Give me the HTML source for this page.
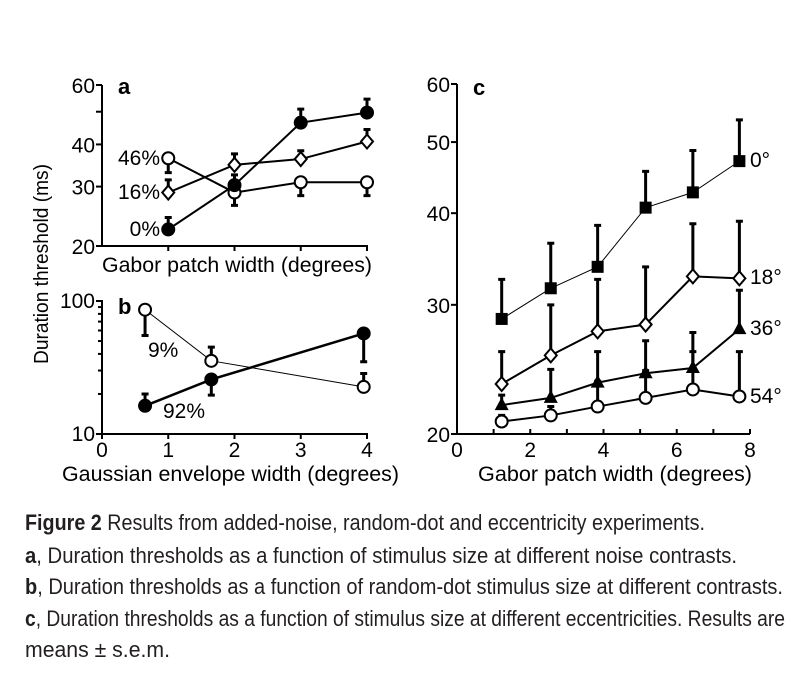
<!DOCTYPE html>
<html><head><meta charset="utf-8"><style>
html,body{margin:0;padding:0;background:#fff;}
svg{display:block;font-family:"Liberation Sans",sans-serif;}
</style></head><body>
<svg id="fig" width="803" height="689" viewBox="0 0 803 689" xmlns="http://www.w3.org/2000/svg">
<g id="pa"></g>
<g id="pb"></g>
<g id="pc"></g>
<text transform="translate(48,264) rotate(-90)" text-anchor="middle" font-size="20" textLength="200" lengthAdjust="spacingAndGlyphs">Duration threshold (ms)</text>
<g font-size="22" fill="#231f20">
<text x="25" y="530" textLength="680" lengthAdjust="spacingAndGlyphs"><tspan font-weight="bold">Figure 2</tspan> Results from added-noise, random-dot and eccentricity experiments.</text>
<text x="25" y="563" textLength="712" lengthAdjust="spacingAndGlyphs"><tspan font-weight="bold">a</tspan>, Duration thresholds as a function of stimulus size at different noise contrasts.</text>
<text x="25" y="594" textLength="758" lengthAdjust="spacingAndGlyphs"><tspan font-weight="bold">b</tspan>, Duration thresholds as a function of random-dot stimulus size at different contrasts.</text>
<text x="25" y="626" textLength="760" lengthAdjust="spacingAndGlyphs"><tspan font-weight="bold">c</tspan>, Duration thresholds as a function of stimulus size at different eccentricities. Results are</text>
<text x="25" y="657" textLength="145" lengthAdjust="spacingAndGlyphs">means ± s.e.m.</text>
</g>
</svg>
<script>
// ---- data ----
const aX = [1, 2, 3, 4];
const a0 = [22.4, 30.3, 46.4, 49.7];
const a0Err = [24.3, 32.5, 50.9, 54.5];
const a16 = [28.8, 34.8, 36.2, 40.8];
const a16Err = [31.4, 37.5, 38.3, 44.3];
const a46 = [36.4, 28.8, 30.9, 30.9];
const a46Err = [33.0, 26.4, 28.2, 28.2];
const aYTicks = [20, 30, 40, 50, 60];
const aYLabels = ["20", "30", "40", "", "60"];

const bX = [0.65, 1.65, 3.95];
const b9 = [86, 35.5, 22.6];
const b9Err = [55, 45, 28.5];
const b92 = [16.3, 25.7, 57];
const b92Err = [20, 19.6, 34.9];
const bXTicks = [0, 1, 2, 3, 4];
const bYTicks = [10, 20, 30, 40, 50, 60, 70, 80, 90, 100];

const cX = [1.22, 2.56, 3.84, 5.15, 6.44, 7.71];
const c0 = [28.7, 31.6, 33.8, 40.7, 42.7, 47.1];
const c0Err = [32.5, 36.4, 38.5, 45.6, 48.7, 53.6];
const c18 = [23.4, 25.6, 27.6, 28.2, 32.8, 32.6];
const c18Err = [25.9, 30.0, 32.5, 33.8, 38.7, 39.0];
const c36 = [21.9, 22.4, 23.5, 24.2, 24.6, 27.8];
const c36Err = [22.6, 24.5, 25.9, 26.8, 27.5, 31.4];
const c54 = [20.8, 21.2, 21.8, 22.4, 23.0, 22.5];
const c54Err = [21.2, 21.8, 23.6, 24.4, 25.9, 25.9];
const cYTicks = [20, 30, 40, 50, 60];
const cXTicks = [0, 1, 2, 3, 4, 5, 6, 7, 8];
const cXLabels = ["0", "", "2", "", "4", "", "6", "", "8"];

const NS = "http://www.w3.org/2000/svg";
function mk(parent, tag, attrs, txt) {
  const e = document.createElementNS(NS, tag);
  for (const k in attrs) e.setAttribute(k, attrs[k]);
  if (txt !== undefined) e.textContent = txt;
  parent.appendChild(e);
  return e;
}
function logScale(d0, d1, r0, r1) { return v => r0 + (Math.log(v) - Math.log(d0)) / (Math.log(d1) - Math.log(d0)) * (r1 - r0); }
function linScale(d0, d1, r0, r1) { return v => r0 + (v - d0) / (d1 - d0) * (r1 - r0); }

function marker(g, type, x, y, name) {
  let e;
  if (type === "fc" || type === "oc") e = mk(g, "circle", {cx: x, cy: y, r: 6, fill: type === "fc" ? "#000" : "#fff", stroke: "#000", "stroke-width": 2});
  else if (type === "sq") e = mk(g, "rect", {x: x - 6, y: y - 6, width: 12, height: 12, fill: "#000"});
  else if (type === "di") e = mk(g, "polygon", {points: `${x},${y-7} ${x+6},${y} ${x},${y+7} ${x-6},${y}`, fill: "#fff", stroke: "#000", "stroke-width": 2});
  else if (type === "tr") e = mk(g, "polygon", {points: `${x},${y-8} ${x+7},${y+5} ${x-7},${y+5}`, fill: "#000"});
  
  
}
function series(g, xs, ys, errs, sx, sy, type, lw, name) {
  const sg = mk(g, "g", {});
  
  
  xs.forEach((x, i) => {
    const px = sx(x), y1 = sy(ys[i]), y2 = sy(errs[i]);
    const eb = mk(sg, "path", {d: `M${px},${y1}V${y2}M${px-3.5},${y2}H${px+3.5}`, stroke: "#000", "stroke-width": 3, fill: "none"});
    
    
  });
  const ln = mk(sg, "polyline", {points: xs.map((x, i) => sx(x) + "," + sy(ys[i])).join(" "), fill: "none", stroke: "#000", "stroke-width": lw});
  
  
  xs.forEach((x, i) => marker(sg, type, sx(x), sy(ys[i]), name + '-point'));
}
function label(g, x, y, t, name, anchor, extra) {
  const e = mk(g, "text", Object.assign({x: x, y: y, "font-size": 21, "text-anchor": anchor || "start"}, extra || {}), t);
  
  
  return e;
}
const fit = w => ({textLength: w, lengthAdjust: "spacingAndGlyphs", "font-size": 21});

// ---- panel a ----
(function () {
  const g = document.getElementById("pa");
  const sx = linScale(0, 4, 102, 367), sy = logScale(20, 60, 246, 85);
  mk(g, "path", {d: "M102,85V246H368", stroke: "#000", "stroke-width": 2, fill: "none"});
  aYTicks.forEach((t, i) => {
    mk(g, "line", {x1: 96, x2: 102, y1: sy(t), y2: sy(t), stroke: "#000", "stroke-width": 2});
    if (aYLabels[i]) label(g, 95, sy(t) + 8, aYLabels[i], "y-tick-label", "end");
  });
  aX.forEach(t => mk(g, "line", {x1: sx(t), x2: sx(t), y1: 246, y2: 251, stroke: "#000", "stroke-width": 2}));
  label(g, 102, 272, "Gabor patch width (degrees)", "x-axis-title", "start", fit(270));
  label(g, 118, 94, "a", "panel-label", "start", {"font-weight": "bold", "font-size": 22});
  series(g, aX, a46, a46Err, sx, sy, "oc", 2, "series-46pct");
  series(g, aX, a16, a16Err, sx, sy, "di", 2, "series-16pct");
  series(g, aX, a0, a0Err, sx, sy, "fc", 2, "series-0pct");
  label(g, 160, 165, "46%", "label-46pct", "end");
  label(g, 160, 199, "16%", "label-16pct", "end");
  label(g, 160, 236, "0%", "label-0pct", "end");
})();

// ---- panel b ----
(function () {
  const g = document.getElementById("pb");
  const sx = linScale(0, 4, 102, 367), sy = logScale(10, 100, 434, 301);
  mk(g, "path", {d: "M102,300V434H368", stroke: "#000", "stroke-width": 2, fill: "none"});
  bYTicks.forEach(t => mk(g, "line", {x1: (t === 10 || t === 100) ? 96 : 98, x2: 102, y1: sy(t), y2: sy(t), stroke: "#000", "stroke-width": 2}));
  label(g, 95, 308, "100", "y-tick-label", "end");
  label(g, 95, 441, "10", "y-tick-label", "end");
  bXTicks.forEach(t => {
    mk(g, "line", {x1: sx(t), x2: sx(t), y1: 434, y2: 439, stroke: "#000", "stroke-width": 2});
    label(g, sx(t), 457, String(t), "x-tick-label", "middle");
  });
  label(g, 62, 481, "Gaussian envelope width (degrees)", "x-axis-title", "start", fit(337));
  label(g, 118, 314, "b", "panel-label", "start", {"font-weight": "bold", "font-size": 22});
  series(g, bX, b9, b9Err, sx, sy, "oc", 1, "series-9pct");
  series(g, bX, b92, b92Err, sx, sy, "fc", 2.5, "series-92pct");
  label(g, 148, 357, "9%", "label-9pct");
  label(g, 163, 418, "92%", "label-92pct");
})();

// ---- panel c ----
(function () {
  const g = document.getElementById("pc");
  const sx = linScale(0, 8, 457, 750), sy = logScale(20, 60, 434, 84);
  mk(g, "path", {d: "M457,84V434H750", stroke: "#000", "stroke-width": 2, fill: "none"});
  cYTicks.forEach(t => {
    mk(g, "line", {x1: 451, x2: 457, y1: sy(t), y2: sy(t), stroke: "#000", "stroke-width": 2});
    label(g, 450, sy(t) + 8, String(t), "y-tick-label", "end");
  });
  cXTicks.forEach((t, i) => {
    if (t > 0) mk(g, "line", {x1: sx(t), x2: sx(t), y1: 434, y2: 429, stroke: "#000", "stroke-width": 2});
    if (cXLabels[i]) label(g, sx(t), 457, cXLabels[i], "x-tick-label", "middle");
  });
  label(g, 478, 481, "Gabor patch width (degrees)", "x-axis-title", "start", fit(274));
  label(g, 473, 95, "c", "panel-label", "start", {"font-weight": "bold", "font-size": 22});
  series(g, cX, c54, c54Err, sx, sy, "oc", 2, "series-54deg");
  series(g, cX, c36, c36Err, sx, sy, "tr", 2, "series-36deg");
  series(g, cX, c18, c18Err, sx, sy, "di", 2, "series-18deg");
  series(g, cX, c0, c0Err, sx, sy, "sq", 1, "series-0deg");
  label(g, 750, 167, "0°", "label-0deg");
  label(g, 750, 284, "18°", "label-18deg");
  label(g, 750, 335, "36°", "label-36deg");
  label(g, 750, 403, "54°", "label-54deg");
})();
</script>
</body></html>
